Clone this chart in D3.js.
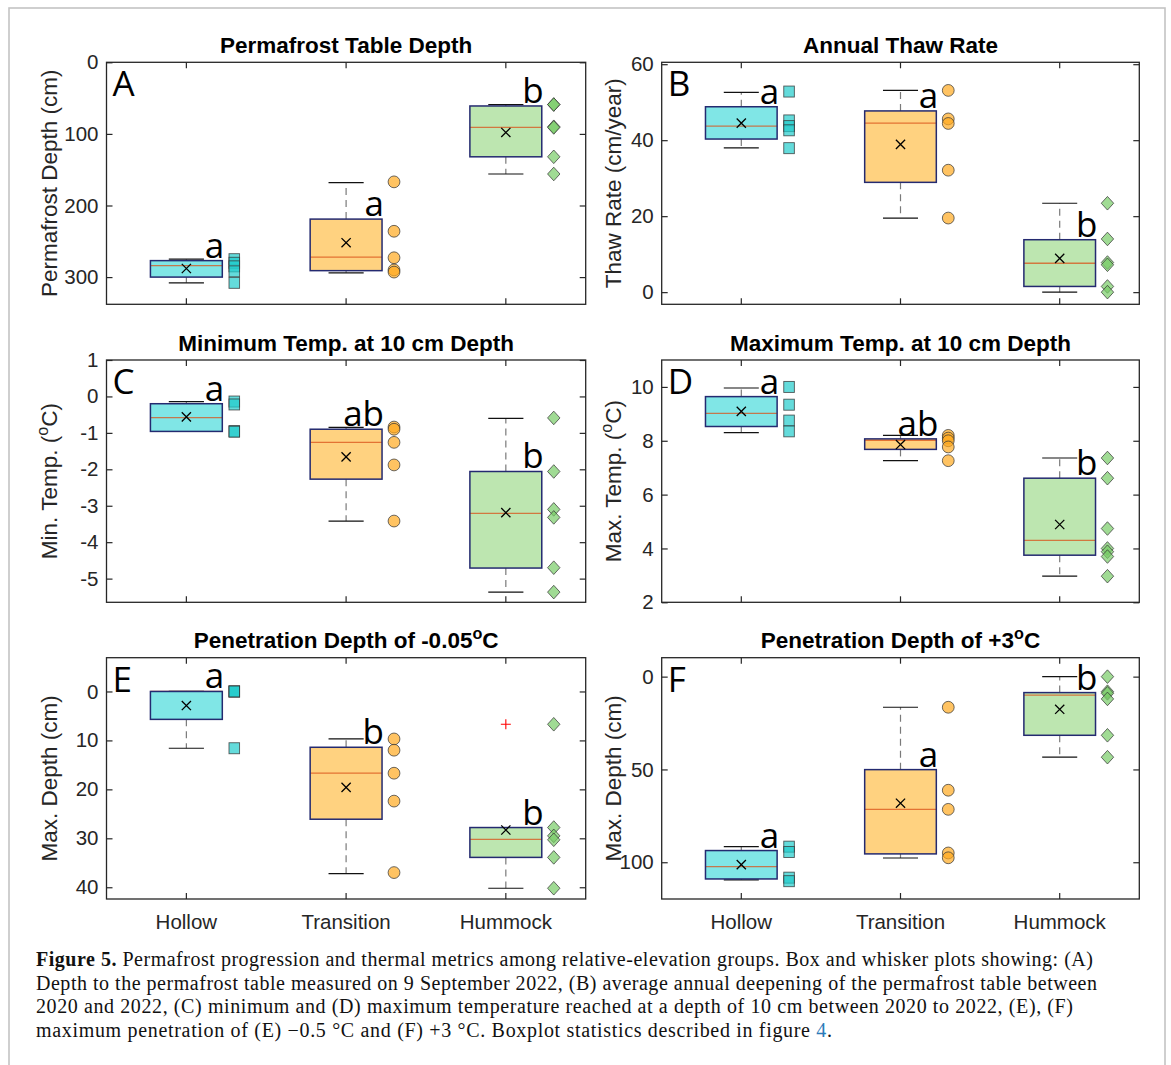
<!DOCTYPE html>
<html>
<head>
<meta charset="utf-8">
<script src="https://cdn.jsdelivr.net/npm/d3@7"></script>
<style>
  body { margin: 0; background: #fff; }
</style>
</head>
<body>
<svg id="fig" width="1171" height="1065"></svg>
<script>
const groups = ["Hollow", "Transition", "Hummock"];
const panelLetters = ["A", "B", "C", "D", "E", "F"];

// each box row: [lower whisker, q1, median, q3, upper whisker, mean]  (values, not pixels)

// A  permafrost table depth (cm)
const depthTicks = [0, 100, 200, 300];
const depthBox = [
  [275, 277, 284, 300, 308, 288],
  [168, 219, 272, 291, 294, 252],
  [59, 61, 91, 132, 156, 98]
];
const depthPts = [
  [275, 280, 285, 292, 308],
  [167, 236, 273, 290, 293],
  [59, 59, 90, 91, 132, 156]
];
const depthSig = ["a", "a", "b"];

// B  annual thaw rate (cm/year)
const thawTicks = [0, 20, 40, 60];
const thawBox = [
  [38.0, 40.3, 43.7, 48.8, 52.6, 44.5],
  [19.5, 28.9, 44.5, 47.7, 53.1, 38.9],
  [0, 1.5, 7.6, 13.8, 23.4, 8.9]
];
const thawPts = [
  [52.8, 45.2, 43.7, 42.6, 37.9],
  [53.1, 45.6, 44.4, 32.1, 19.5],
  [23.4, 14.0, 7.8, 7.2, 1.5, 0]
];
const thawSig = ["a", "a", "b"];

// C  minimum temp at 10 cm (degC)
const minTicks = [-5, -4, -3, -2, -1, 0, 1];
const minBox = [
  [-0.96, -0.96, -0.58, -0.2, -0.14, -0.56],
  [-3.42, -2.27, -1.26, -0.9, -0.85, -1.66],
  [-5.37, -4.71, -3.21, -2.06, -0.6, -3.19]
];
const minPts = [
  [-0.14, -0.22, -0.95, -0.97],
  [-0.84, -0.9, -1.26, -1.88, -3.42],
  [-0.59, -2.06, -3.1, -3.32, -4.7, -5.37]
];
const minSig = ["a", "ab", "b"];

// D  maximum temp at 10 cm (degC)
const maxTicks = [2, 4, 6, 8, 10];
const maxBox = [
  [8.3, 8.53, 9.02, 9.64, 9.96, 9.09],
  [7.26, 7.68, 8.02, 8.07, 8.2, 7.86],
  [2.97, 3.75, 4.3, 6.61, 7.36, 4.89]
];
const maxPts = [
  [10.0, 9.34, 8.75, 8.35],
  [8.2, 8.1, 8.0, 7.77, 7.26],
  [7.36, 6.61, 4.74, 4.0, 3.88, 3.7, 2.97]
];
const maxSig = ["a", "ab", "b"];

// E  penetration depth of -0.05 degC (cm)
const coldTicks = [0, 10, 20, 30, 40];
const coldBox = [
  [0, 0, 0, 5.7, 11.6, 2.87],
  [9.7, 11.4, 16.7, 26.1, 37.2, 19.6],
  [27.8, 27.8, 30.2, 33.9, 40.2, 28.3]
];
const coldPts = [
  [0, 0, 0, 11.6],
  [9.7, 12.0, 16.7, 22.4, 37.0],
  [6.7, 27.8, 29.5, 30.3, 33.9, 40.2]
];
const coldOutliers = [[], [], [6.7]];
const coldSig = ["a", "b", "b"];

// F  penetration depth of +3 degC (cm)
const warmTicks = [0, 50, 100];
const warmBox = [
  [91.6, 93.7, 102.4, 109, 109.5, 101.3],
  [16.5, 50.1, 71.5, 95.5, 97.7, 68.2],
  [0, 8.6, 10, 31.6, 43.4, 17.6]
];
const warmPts = [
  [91.6, 94.5, 108.3, 110.2],
  [16.5, 61.2, 71.5, 95.0, 97.6],
  [0, 8.1, 9.0, 12.0, 31.6, 43.4]
];
const warmSig = ["a", "a", "b"];

// odd entries of a text list are superscripts
const panels = [
  {title: ["Permafrost Table Depth"], ylab: ["Permafrost Depth (cm)"], domain: [0, 338], flip: true,
   ticks: depthTicks, box: depthBox, pts: depthPts, sig: depthSig},
  {title: ["Annual Thaw Rate"], ylab: ["Thaw Rate (cm/year)"], domain: [-3.2, 60.5], flip: false,
   ticks: thawTicks, box: thawBox, pts: thawPts, sig: thawSig},
  {title: ["Minimum Temp. at 10 cm Depth"], ylab: ["Min. Temp. (", "o", "C)"], domain: [-5.65, 1], flip: false,
   ticks: minTicks, box: minBox, pts: minPts, sig: minSig},
  {title: ["Maximum Temp. at 10 cm Depth"], ylab: ["Max. Temp. (", "o", "C)"], domain: [2, 11], flip: false,
   ticks: maxTicks, box: maxBox, pts: maxPts, sig: maxSig},
  {title: ["Penetration Depth of -0.05", "o", "C"], ylab: ["Max. Depth (cm)"], domain: [-6.9, 42.4], flip: true,
   ticks: coldTicks, box: coldBox, pts: coldPts, sig: coldSig, out: coldOutliers},
  {title: ["Penetration Depth of +3", "o", "C"], ylab: ["Max. Depth (cm)"], domain: [-10.2, 119.8], flip: true,
   ticks: warmTicks, box: warmBox, pts: warmPts, sig: warmSig}
];

const boxFill = ["#80e6e6", "#ffd280", "#bde6b0"];
const ptFill = ["#22cccc", "#ffa91f", "#77cc66"];
const sans = "Arial, 'Liberation Sans', Helvetica, sans-serif";
const ink = "#262626";

const svg = d3.select("#fig");
svg.append("rect").attr("width", 1171).attr("height", 1065).attr("fill", "#fff");
svg.append("rect").attr("x", 9).attr("y", 8).attr("width", 1156).attr("height", 1090)
  .attr("fill", "none").attr("stroke", "#c4c4c4").attr("stroke-width", 1.6);

function rich(sel, parts, fs) {
  parts.forEach((s, k) => {
    const t = sel.append("tspan").text(s);
    if (k % 2 == 1) t.attr("dy", -0.42 * fs).attr("font-size", fs * 0.72);
    else if (k > 0) t.attr("dy", 0.42 * fs);
  });
}

const cols = [[106.5, 585.7], [661.7, 1139.3]];
const rows = [[62.3, 304.3], [360, 602.3], [657.7, 899]];

panels.forEach((p, i) => {
  const [left, right] = cols[i % 2];
  const [top, bottom] = rows[Math.floor(i / 2)];
  const isBottom = i >= 4;
  const x = d3.scaleBand().domain(groups).range([left, right]);
  const bw = x.bandwidth();
  const y = d3.scaleLinear().domain(p.domain).range(p.flip ? [top, bottom] : [bottom, top]);
  const g = svg.append("g");

  const styleAxis = a => {
    a.select(".domain").remove();
    a.attr("font-family", sans).attr("font-size", 20.5);
    a.selectAll("line").attr("stroke", ink).attr("stroke-width", 1.2);
    a.selectAll("text").attr("fill", ink);
  };
  g.append("g").attr("transform", `translate(${left},0)`)
    .call(d3.axisLeft(y).tickValues(p.ticks).tickSize(-6).tickPadding(8).tickFormat(d => String(d)))
    .call(styleAxis);
  g.append("g").attr("transform", `translate(${right},0)`)
    .call(d3.axisRight(y).tickValues(p.ticks).tickSize(-6).tickFormat(""))
    .call(styleAxis);
  g.append("g").attr("transform", `translate(0,${top})`)
    .call(d3.axisTop(x).tickSize(-6).tickFormat(""))
    .call(styleAxis);
  g.append("g").attr("transform", `translate(0,${bottom})`)
    .call(d3.axisBottom(x).tickSize(-6).tickPadding(15).tickFormat(isBottom ? (d => d) : ""))
    .call(styleAxis);
  g.append("rect").attr("x", left).attr("y", top).attr("width", right - left).attr("height", bottom - top)
    .attr("fill", "none").attr("stroke", ink).attr("stroke-width", 1.3);

  const bx = g.selectAll(".grp").data(groups).enter().append("g");
  bx.each(function(name, j) {
    const s = d3.select(this);
    const [lo, q1, med, q3, hi, mean] = p.box[j];
    const cx = x(name) + bw / 2, hw = bw * 0.225, cw = bw * 0.11;
    // whiskers
    [[q3, hi], [q1, lo]].forEach(([a, b]) => {
      s.append("line").attr("x1", cx).attr("x2", cx).attr("y1", y(a)).attr("y2", y(b))
        .attr("stroke", "#7a7a7a").attr("stroke-width", 1.2).attr("stroke-dasharray", "7,5");
    });
    [lo, hi].forEach(v => {
      s.append("line").attr("x1", cx - cw).attr("x2", cx + cw).attr("y1", y(v)).attr("y2", y(v))
        .attr("stroke", "#111").attr("stroke-width", 1.2);
    });
    const yt = Math.min(y(q1), y(q3)), yb = Math.max(y(q1), y(q3));
    s.append("rect").attr("x", cx - hw).attr("y", yt).attr("width", 2 * hw).attr("height", yb - yt)
      .attr("fill", boxFill[j]);
    s.append("line").attr("x1", cx - hw).attr("x2", cx + hw).attr("y1", y(med)).attr("y2", y(med))
      .attr("stroke", "#d95319").attr("stroke-opacity", 0.75).attr("stroke-width", 1.3);
    s.append("rect").attr("x", cx - hw).attr("y", yt).attr("width", 2 * hw).attr("height", yb - yt)
      .attr("fill", "none").attr("stroke", "#242a70").attr("stroke-width", 1.5);

    // raw points beside the box
    const px = cx + bw * 0.3;
    p.pts[j].forEach(v => {
      let m;
      if (j == 0) m = s.append("rect").attr("x", px - 5.3).attr("y", y(v) - 5.5).attr("width", 10.6).attr("height", 11);
      else if (j == 1) m = s.append("circle").attr("cx", px).attr("cy", y(v)).attr("r", 5.9);
      else m = s.append("path").attr("d", `M${px},${y(v) - 6.8}L${px + 6.2},${y(v)}L${px},${y(v) + 6.8}L${px - 6.2},${y(v)}Z`);
      m.attr("fill", ptFill[j]).attr("fill-opacity", 0.7)
        .attr("stroke", "#333").attr("stroke-opacity", 0.8).attr("stroke-width", 0.9);
    });

    // outliers
    (p.out ? p.out[j] : []).forEach(v => {
      s.append("path").attr("d", `M${cx - 5},${y(v)}H${cx + 5}M${cx},${y(v) - 5}V${y(v) + 5}`)
        .attr("stroke", "#ff0000").attr("stroke-width", 1.1);
    });

    // mean marker
    const my = y(mean);
    s.append("path").attr("d", `M${cx - 4.6},${my - 4.6}L${cx + 4.6},${my + 4.6}M${cx - 4.6},${my + 4.6}L${cx + 4.6},${my - 4.6}`)
      .attr("stroke", "#000").attr("stroke-width", 1.3);

    // significance letter
    s.append("text").attr("x", cx + hw + 2).attr("y", yt - 3).attr("text-anchor", "end")
      .attr("font-family", "'Open Sans', 'Noto Sans', sans-serif").attr("font-size", 35)
      .attr("fill", "#000").text(p.sig[j]);
  });

  // panel letter
  g.append("text").attr("x", left + 6).attr("y", top + 34)
    .attr("font-family", "'Open Sans', 'Noto Sans', sans-serif").attr("font-size", 35)
    .attr("fill", "#000").text(panelLetters[i]);

  // title
  const t = g.append("text").attr("x", (left + right) / 2).attr("y", top - 9.5)
    .attr("text-anchor", "middle").attr("font-family", sans).attr("font-weight", "bold")
    .attr("font-size", 22.5).attr("fill", "#000");
  rich(t, p.title, 22.5);

  // y label
  const lx = i % 2 ? 613.5 : 49.5;
  const yl = g.append("text").attr("transform", `translate(${lx},${(top + bottom) / 2}) rotate(-90)`)
    .attr("text-anchor", "middle").attr("dy", "0.35em").attr("font-family", sans)
    .attr("font-size", 22.5).attr("fill", ink);
  rich(yl, p.ylab, 22.5);
});

// caption
const capLines = [
  [["Figure 5.", "b"], [" Permafrost progression and thermal metrics among relative-elevation groups. Box and whisker plots showing: (A)", ""]],
  [["Depth to the permafrost table measured on 9 September 2022, (B) average annual deepening of the permafrost table between", ""]],
  [["2020 and 2022, (C) minimum and (D) maximum temperature reached at a depth of 10 cm between 2020 to 2022, (E), (F)", ""]],
  [["maximum penetration of (E) \u22120.5 \u00b0C and (F) +3 \u00b0C. Boxplot statistics described in figure ", ""], ["4", "l"], [".", ""]]
];
const capWidth = [1057, 1061, 1037, 796];
capLines.forEach((line, k) => {
  const t = svg.append("text").attr("x", 36).attr("y", 966 + k * 23.6)
    .attr("font-family", "'Liberation Serif', 'DejaVu Serif', serif").attr("font-size", 20).attr("fill", "#111");
  t.attr("textLength", capWidth[k]).attr("lengthAdjust", "spacing");
  line.forEach(([s, f]) => {
    const ts = t.append("tspan").text(s);
    if (f == "b") ts.attr("font-weight", "bold");
    if (f == "l") ts.attr("fill", "#2b7bb9");
  });
});
</script>
</body>
</html>
